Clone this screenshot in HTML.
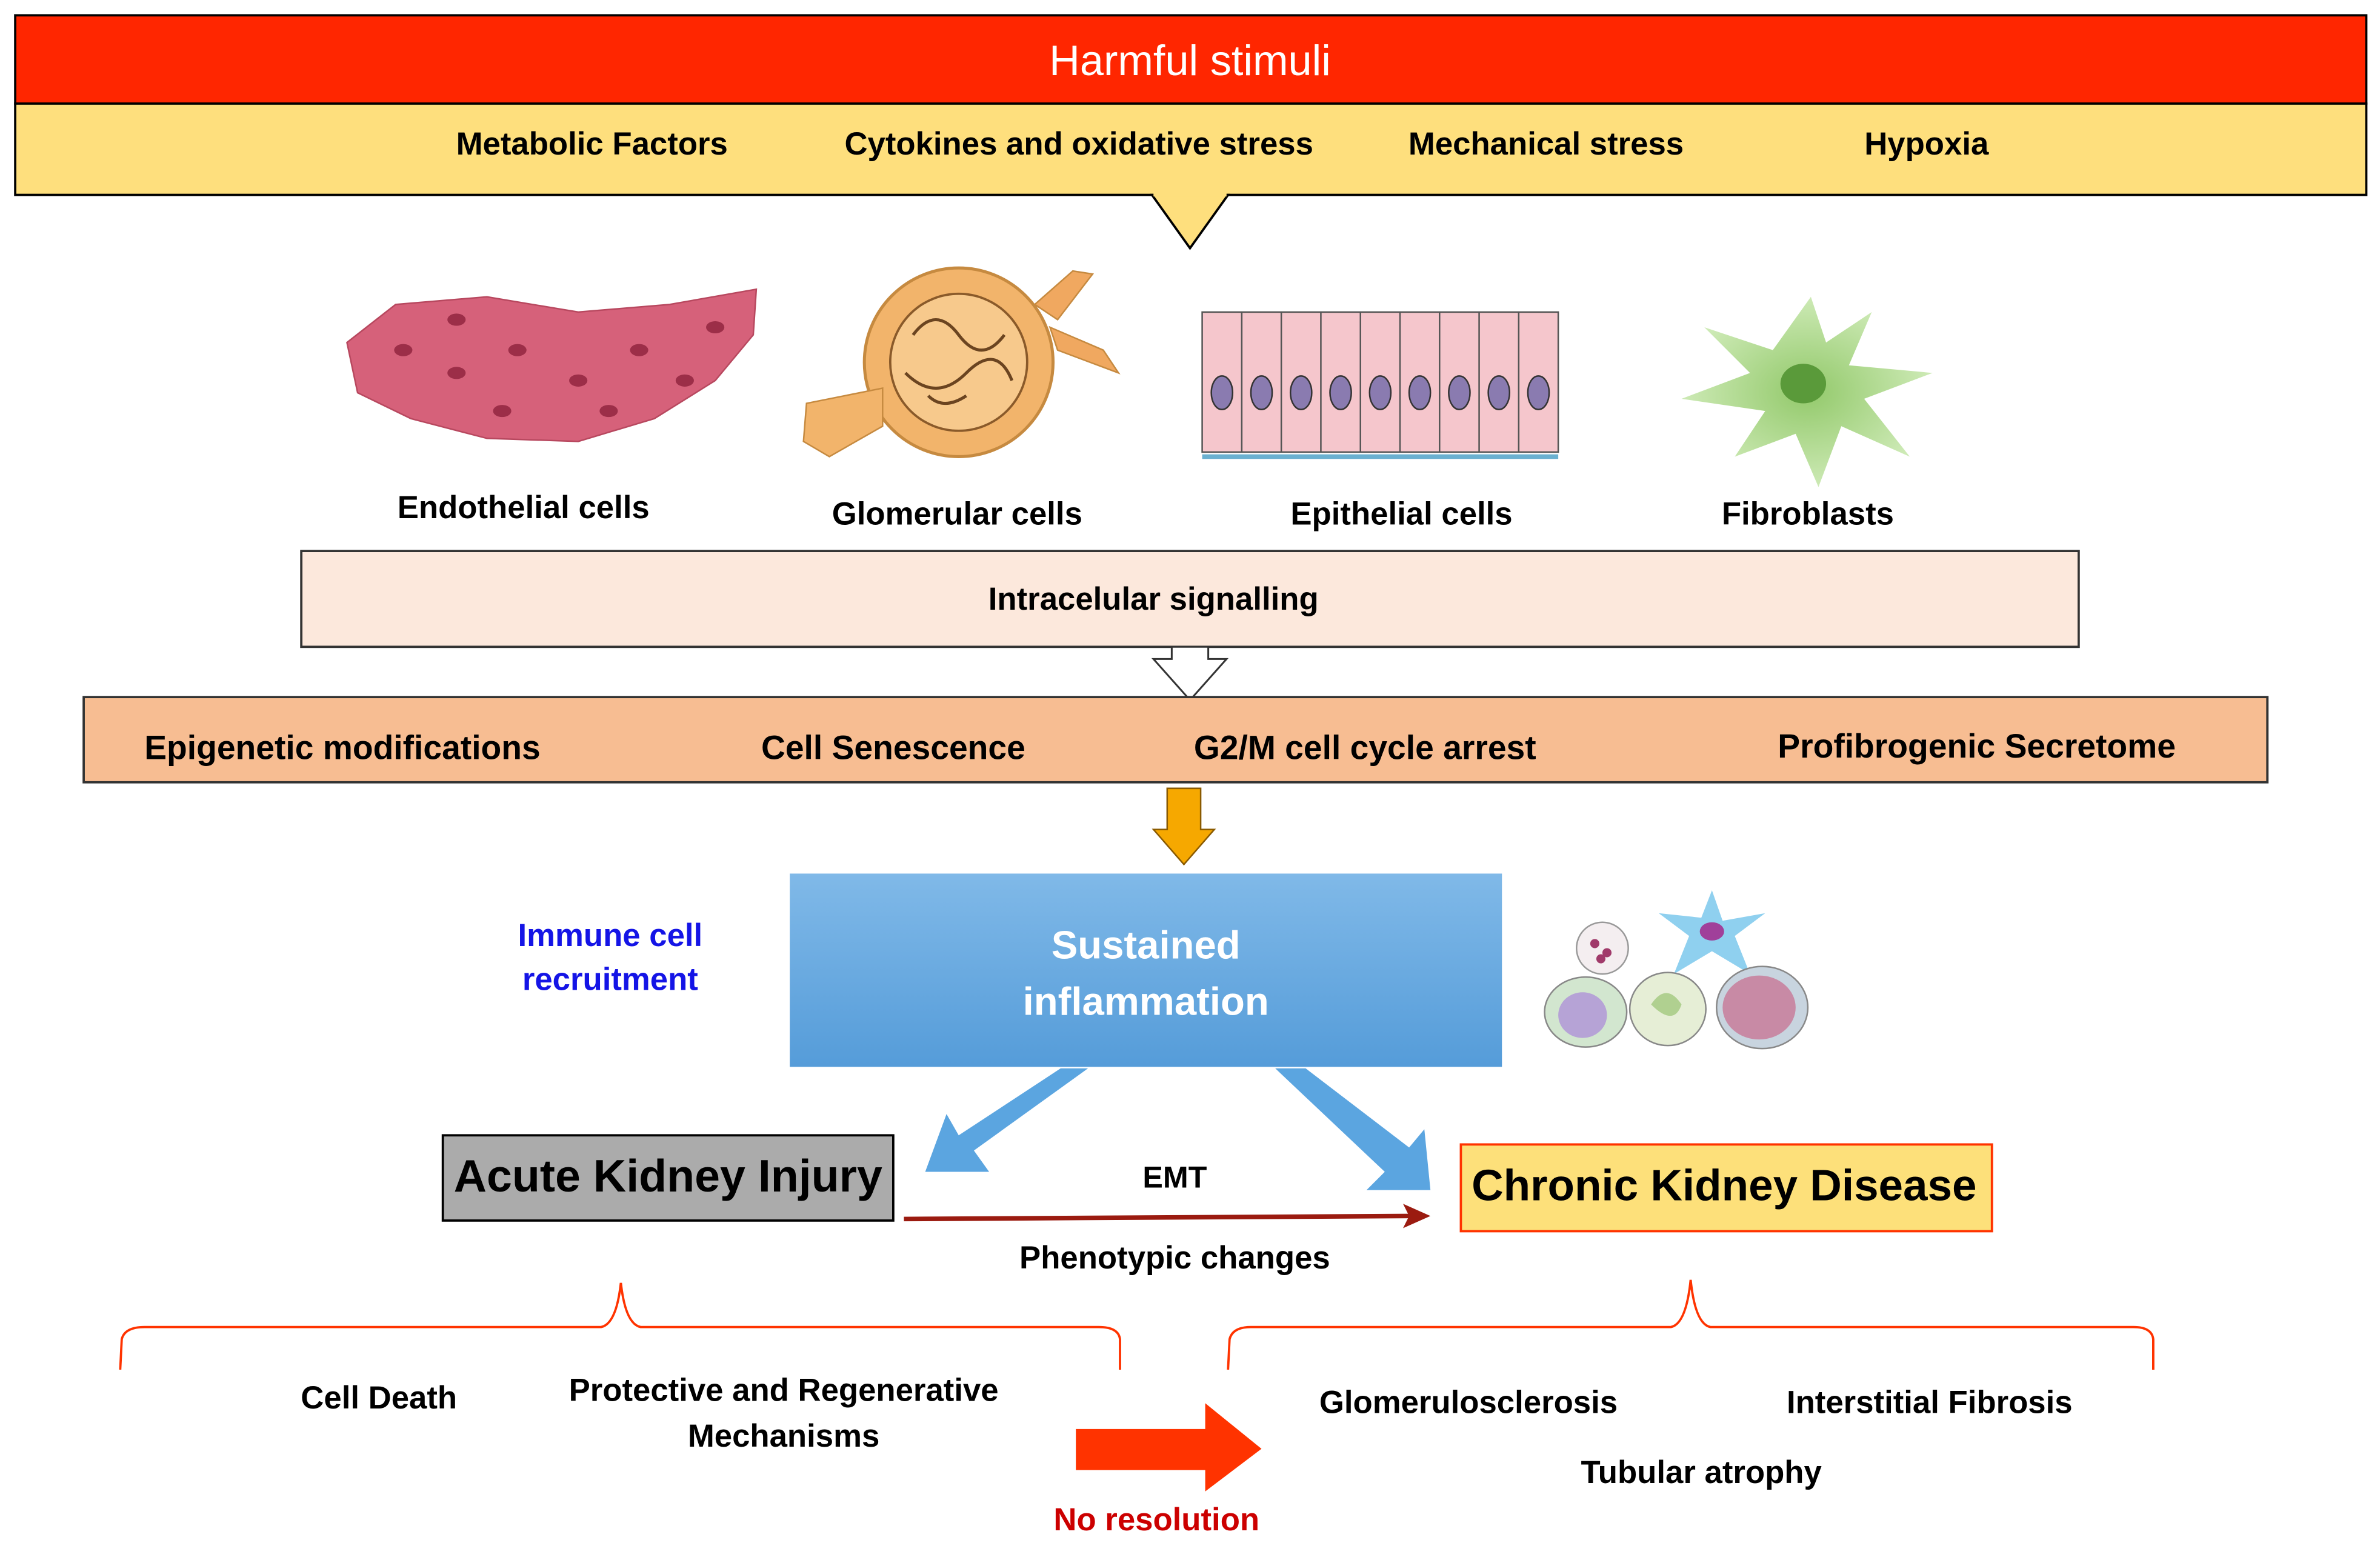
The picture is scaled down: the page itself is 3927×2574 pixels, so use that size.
<!DOCTYPE html>
<html><head><meta charset="utf-8"><style>html,body{margin:0;padding:0;background:#fff}svg{display:block}
text{font-family:"Liberation Sans",sans-serif;font-weight:bold;text-anchor:middle;dominant-baseline:middle}</style></head>
<body>
<svg width="3927" height="2574" viewBox="0 0 1564 1025" xmlns="http://www.w3.org/2000/svg">
<defs>
<linearGradient id="bl" x1="0" y1="0" x2="0" y2="1"><stop offset="0" stop-color="#80b9e8"/><stop offset="1" stop-color="#559cd9"/></linearGradient>
<radialGradient id="gr"><stop offset="0" stop-color="#7fbf50"/><stop offset="1" stop-color="#c4e6a8"/></radialGradient>
</defs>
<rect x="10" y="10" width="1545" height="58" fill="#ff2600" stroke="#000" stroke-width="1.5"/>
<text x="782" y="42" fill="#fff" font-size="28" font-weight="normal" style="font-weight:normal">Harmful stimuli</text>
<rect x="10" y="68" width="1545" height="60" fill="#fedf7d" stroke="#000" stroke-width="1.5"/>
<polygon points="757,128 782,163 807,128" fill="#fedf7d" stroke="#000" stroke-width="1.5"/>
<line x1="758" y1="128" x2="806" y2="128" stroke="#fedf7d" stroke-width="2"/>
<g font-size="21"><text x="389" y="96">Metabolic Factors</text><text x="709" y="96">Cytokines and oxidative stress</text><text x="1016" y="96">Mechanical  stress</text><text x="1266" y="96">Hypoxia</text></g>
<!-- endothelial -->
<path d="M228,225 L260,200 L320,195 L380,205 L440,200 L497,190 L495,220 L470,250 L430,275 L380,290 L320,288 L270,275 L235,258 Z" fill="#d6617a" stroke="#b8485f"/>
<g fill="#9c2e48"><ellipse cx="265" cy="230" rx="6" ry="4"/><ellipse cx="300" cy="245" rx="6" ry="4"/><ellipse cx="340" cy="230" rx="6" ry="4"/><ellipse cx="380" cy="250" rx="6" ry="4"/><ellipse cx="420" cy="230" rx="6" ry="4"/><ellipse cx="450" cy="250" rx="6" ry="4"/><ellipse cx="330" cy="270" rx="6" ry="4"/><ellipse cx="400" cy="270" rx="6" ry="4"/><ellipse cx="470" cy="215" rx="6" ry="4"/><ellipse cx="300" cy="210" rx="6" ry="4"/></g>
<!-- glomerulus -->
<circle cx="630" cy="238" r="62" fill="#f2b46b" stroke="#c68a40" stroke-width="2"/>
<circle cx="630" cy="238" r="45" fill="#f7c98c" stroke="#8a5a2a" stroke-width="1.5"/>
<path d="M600,220 q15,-20 30,0 t30,0 M595,245 q20,20 40,0 t30,5 M610,260 q10,10 25,0" fill="none" stroke="#6b4420" stroke-width="2"/>
<path d="M680,200 L705,178 L718,180 L695,210 Z M690,215 L725,230 L735,245 L695,230 Z" fill="#f0a860" stroke="#c68a40"/>
<path d="M580,255 L530,265 L528,290 L545,300 L580,280 Z" fill="#f2b46b" stroke="#c68a40"/>
<!-- epithelial -->
<rect x="790" y="205" width="234" height="92" fill="#f5c6cc" stroke="#555"/>
<g stroke="#555">
<line x1="816" y1="205" x2="816" y2="297"/><line x1="842" y1="205" x2="842" y2="297"/><line x1="868" y1="205" x2="868" y2="297"/><line x1="894" y1="205" x2="894" y2="297"/><line x1="920" y1="205" x2="920" y2="297"/><line x1="946" y1="205" x2="946" y2="297"/><line x1="972" y1="205" x2="972" y2="297"/><line x1="998" y1="205" x2="998" y2="297"/></g>
<g fill="#8a7bb0" stroke="#333"><ellipse cx="803" cy="258" rx="7" ry="11"/><ellipse cx="829" cy="258" rx="7" ry="11"/><ellipse cx="855" cy="258" rx="7" ry="11"/><ellipse cx="881" cy="258" rx="7" ry="11"/><ellipse cx="907" cy="258" rx="7" ry="11"/><ellipse cx="933" cy="258" rx="7" ry="11"/><ellipse cx="959" cy="258" rx="7" ry="11"/><ellipse cx="985" cy="258" rx="7" ry="11"/><ellipse cx="1011" cy="258" rx="7" ry="11"/></g>
<line x1="790" y1="300" x2="1024" y2="300" stroke="#6ab0d0" stroke-width="3"/>
<!-- fibroblast -->
<path d="M1190,195 L1200,225 L1230,205 L1215,240 L1270,245 L1225,262 L1255,300 L1210,280 L1195,320 L1180,285 L1140,300 L1160,270 L1105,262 L1150,245 L1120,215 L1165,230 Z" fill="url(#gr)" opacity="0.85"/>
<ellipse cx="1185" cy="252" rx="15" ry="13" fill="#5a9a3a"/>
<g font-size="21"><text x="344" y="335">Endothelial cells</text><text x="629" y="339">Glomerular cells</text><text x="921" y="339">Epithelial  cells</text><text x="1188" y="339">Fibroblasts</text></g>
<rect x="198" y="362" width="1168" height="63" fill="#fce8dc" stroke="#333" stroke-width="1.5"/>
<text x="758" y="395" font-size="21">Intracelular signalling</text>
<polygon points="770,425 794,425 794,433 806,433 782,460 758,433 770,433" fill="#fff" stroke="#333" stroke-width="1.2"/>
<rect x="55" y="458" width="1435" height="56" fill="#f7bd92" stroke="#333" stroke-width="1.5"/>
<g font-size="22"><text x="225" y="493">Epigenetic modifications</text><text x="587" y="493">Cell Senescence</text><text x="897" y="493">G2/M cell cycle arrest</text><text x="1299" y="492">Profibrogenic Secretome</text></g>
<polygon points="767,518 789,518 789,545 798,545 778,568 758,545 767,545" fill="#f6a800" stroke="#8a5a00" stroke-width="1"/>
<rect x="519" y="574" width="468" height="127" fill="url(#bl)"/>
<text x="753" y="623" font-size="26" fill="#fff">Sustained</text>
<text x="753" y="660" font-size="26" fill="#fff">inflammation</text>
<g font-size="21" fill="#1414e6"><text x="401" y="616">Immune  cell</text><text x="401" y="645">recruitment</text></g>
<!-- immune cells -->
<circle cx="1053" cy="623" r="17" fill="#f4eef0" stroke="#999"/><g fill="#a03a6a"><circle cx="1048" cy="620" r="3"/><circle cx="1056" cy="626" r="3"/><circle cx="1052" cy="630" r="3"/></g>
<path d="M1125,585 L1132,605 L1160,600 L1140,615 L1150,640 L1125,625 L1100,640 L1110,615 L1090,600 L1118,603 Z" fill="#8fd0ef"/><ellipse cx="1125" cy="612" rx="8" ry="6" fill="#a0409a"/>
<ellipse cx="1042" cy="665" rx="27" ry="23" fill="#d2e6cf" stroke="#888"/><ellipse cx="1040" cy="667" rx="16" ry="15" fill="#b6a3d6"/>
<ellipse cx="1096" cy="663" rx="25" ry="24" fill="#e6eed6" stroke="#888"/><path d="M1085,660 q10,-15 20,0 q-5,15 -20,0" fill="#b0d090"/>
<ellipse cx="1158" cy="662" rx="30" ry="27" fill="#c8d4df" stroke="#888"/><ellipse cx="1156" cy="662" rx="24" ry="21" fill="#c88aa5"/>
<!-- blue arrows -->
<polygon points="697,702 715,702 640,756 650,770 608,770 622,732 630,746" fill="#5ba5e0"/>
<polygon points="838,702 858,702 926,754 936,742 940,782 898,782 910,770" fill="#5ba5e0"/>
<rect x="291" y="746" width="296" height="56" fill="#ababab" stroke="#000" stroke-width="1.5"/>
<text x="439" y="775" font-size="30">Acute Kidney Injury</text>
<rect x="960" y="752" width="349" height="57" fill="#fde07a" stroke="#ff3300" stroke-width="1.5"/>
<text x="1133" y="781" font-size="29">Chronic Kidney Disease</text>
<text x="772" y="775" font-size="20">EMT</text>
<line x1="594" y1="801" x2="928" y2="799" stroke="#9b1b10" stroke-width="3"/>
<polygon points="940,799 922,791 926,799 922,807" fill="#9b1b10"/>
<text x="772" y="828" font-size="21">Phenotypic changes</text>
<path d="M79,900 L80,880 Q82,872 95,872 L395,872 Q405,870 408,843 Q411,870 421,872 L722,872 Q735,872 736,880 L736,900" fill="none" stroke="#ff3300" stroke-width="1.5"/>
<path d="M807,900 L808,880 Q810,872 822,872 L1098,872 Q1108,870 1111,841 Q1114,870 1124,872 L1402,872 Q1414,872 1415,880 L1415,900" fill="none" stroke="#ff3300" stroke-width="1.5"/>
<g font-size="21"><text x="249" y="920">Cell Death</text><text x="515" y="915">Protective and Regenerative</text><text x="515" y="945">Mechanisms</text>
<text x="965" y="923">Glomerulosclerosis</text><text x="1268" y="923">Interstitial Fibrosis</text><text x="1118" y="969">Tubular atrophy</text></g>
<polygon points="707,939 792,939 792,922 829,952 792,980 792,966 707,966" fill="#ff3300"/>
<text x="760" y="1000" font-size="21" fill="#cc0000">No resolution</text>
</svg>
</body></html>
